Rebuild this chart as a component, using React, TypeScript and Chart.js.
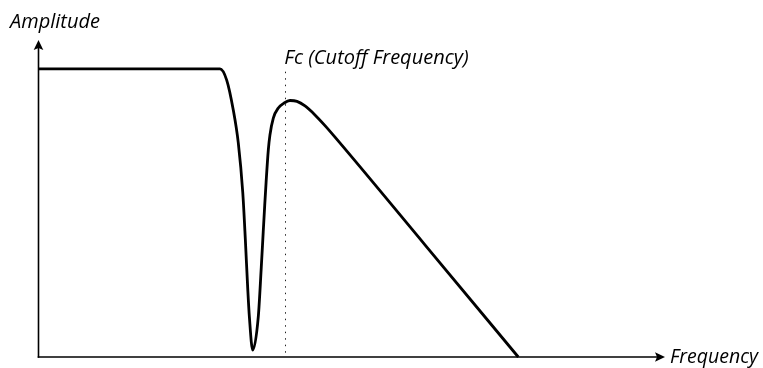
import React, { useEffect, useRef } from "react";
import { Chart, registerables } from "chart.js";

Chart.register(...registerables);

// Frequency response curve (normalized units): frequency 0..100, amplitude 0..1.1
const freq = [0, 28.97, 30.04, 31.09, 31.89, 32.61, 33.02, 33.41, 33.66, 34.19, 35.08, 35.56, 35.87, 36.11, 36.33, 36.68, 36.94, 37.48, 38.28, 39.19, 40.14, 41.26, 42.54, 44.13, 45.73, 47.33, 61.85, 76.58];
const amplitude = [1.0, 1.0, 0.961, 0.857, 0.743, 0.569, 0.406, 0.232, 0.139, 0.024, 0.139, 0.312, 0.434, 0.527, 0.607, 0.718, 0.77, 0.829, 0.864, 0.881, 0.89, 0.887, 0.871, 0.84, 0.803, 0.763, 0.385, 0.0];
const cutoffFreq = 39.4;
const cutoffTop = 0.99;
const xMax = 100;
const yMax = 1.1;
const xTitle = "Frequency";
const yTitle = "Amplitude";
const cutoffLabel = "Fc (Cutoff Frequency)";

const FAMILY = '"Open Sans", "DejaVu Sans", sans-serif';

const decorPlugin = {
  id: "decor",
  beforeDatasetsDraw(chart: any) {
    const { ctx, chartArea, scales } = chart;
    const x = scales.x;
    const y = scales.y;
    const fx = x.getPixelForValue(cutoffFreq);
    ctx.save();
    ctx.strokeStyle = "#222";
    ctx.lineWidth = 1;
    ctx.setLineDash([1.5, 5]);
    ctx.beginPath();
    ctx.moveTo(Math.round(fx) + 0.5, y.getPixelForValue(cutoffTop));
    ctx.lineTo(Math.round(fx) + 0.5, chartArea.bottom);
    ctx.stroke();
    ctx.restore();
  },
  afterDatasetsDraw(chart: any) {
    const { ctx, chartArea, scales } = chart;
    const { left, right, top, bottom } = chartArea;
    const fx = scales.x.getPixelForValue(cutoffFreq);
    ctx.save();
    ctx.strokeStyle = "#000";
    ctx.fillStyle = "#000";
    ctx.lineWidth = 1.6;
    ctx.lineCap = "butt";
    // y axis
    ctx.beginPath();
    ctx.moveTo(left, bottom + 0.8);
    ctx.lineTo(left, top + 6);
    ctx.stroke();
    // x axis
    ctx.beginPath();
    ctx.moveTo(left - 0.8, bottom);
    ctx.lineTo(right - 6, bottom);
    ctx.stroke();
    // arrow heads
    ctx.beginPath();
    ctx.moveTo(left, top);
    ctx.lineTo(left + 4.8, top + 10);
    ctx.lineTo(left, top + 8);
    ctx.lineTo(left - 4.8, top + 10);
    ctx.closePath();
    ctx.fill();
    ctx.beginPath();
    ctx.moveTo(right, bottom);
    ctx.lineTo(right - 10, bottom - 4.8);
    ctx.lineTo(right - 8, bottom);
    ctx.lineTo(right - 10, bottom + 4.8);
    ctx.closePath();
    ctx.fill();
    // labels
    ctx.textBaseline = "alphabetic";
    ctx.textAlign = "left";
    ctx.fillStyle = "#000";
    ctx.font = "italic 20px " + FAMILY;
    ctx.fillText(yTitle, left - 28.5, top - 12);
    ctx.fillText(cutoffLabel, fx - 1, top + 24);
    ctx.font = "italic 19.5px " + FAMILY;
    ctx.fillText(xTitle, right + 5, bottom + 6);
    ctx.restore();
  },
};

export default function App() {
  const ref = useRef<HTMLCanvasElement | null>(null);
  useEffect(() => {
    if (!ref.current) return;
    const chart = new Chart(ref.current, {
      type: "line",
      data: {
        datasets: [
          {
            data: freq.map((f, i) => ({ x: f, y: amplitude[i] })),
            borderColor: "#000",
            borderWidth: 2.8,
            pointRadius: 0,
            cubicInterpolationMode: "monotone",
            fill: false,
            clip: false as any,
          },
        ],
      },
      options: {
        animation: false,
        responsive: true,
        maintainAspectRatio: false,
        layout: { padding: { left: 38.5, top: 40, right: 98, bottom: 11 } },
        plugins: { legend: { display: false }, tooltip: { enabled: false }, title: { display: false } },
        scales: {
          x: { type: "linear", min: 0, max: xMax, display: false },
          y: { type: "linear", min: 0, max: yMax, display: false },
        },
      },
      plugins: [decorPlugin],
    });
    return () => chart.destroy();
  }, []);
  return (
    <div style={{ position: "fixed", left: 0, top: 0, width: 763, height: 368, background: "#fff" }}>
      <canvas ref={ref} />
    </div>
  );
}
